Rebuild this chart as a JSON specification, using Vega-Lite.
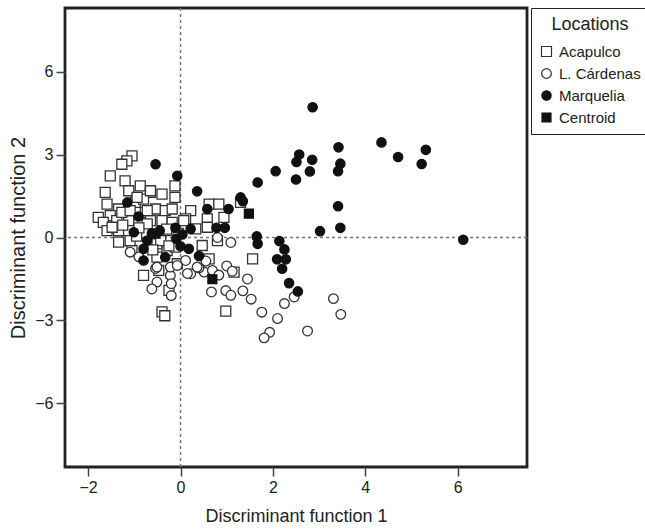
{
  "$schema": "https://vega.github.io/schema/vega-lite/v6.json",
  "autosize": "none",
  "padding": {"left": 65, "top": 8, "right": 118, "bottom": 65},
  "width": 462,
  "height": 459,
  "config": {
    "font": "Liberation Sans",
    "view": {"stroke": "#222", "strokeWidth": 2.8},
    "axis": {"domain": false, "grid": false, "tickSize": 9, "tickColor": "#444", "tickWidth": 1.5, "labelFontSize": 16, "labelColor": "#222", "labelPadding": 3, "titleFontWeight": "normal", "titleColor": "#222"},
    "legend": {"strokeColor": "#222", "padding": 8, "titleFontSize": 18, "titleFontWeight": "normal", "titleColor": "#222", "titlePadding": 10, "titleAnchor": "middle", "labelFontSize": 15, "labelColor": "#222", "labelOffset": 5, "rowPadding": 6, "symbolStrokeWidth": 1.2, "offset": 4}
  },
  "layer": [
    {
      "data": {"values": [{}]},
      "mark": {"type": "rule", "strokeDash": [3, 3], "color": "#777", "strokeWidth": 1.5},
      "encoding": {"x": {"datum": 0, "type": "quantitative"}}
    },
    {
      "data": {"values": [{}]},
      "mark": {"type": "rule", "strokeDash": [3, 3], "color": "#777", "strokeWidth": 1.5},
      "encoding": {"y": {"datum": 0, "type": "quantitative"}}
    },
    {
      "data": {"values": [
        {"group": "Acapulco", "x": -1.05, "y": 2.95},
        {"group": "Acapulco", "x": -1.16, "y": 2.77},
        {"group": "Acapulco", "x": -1.27, "y": 2.65},
        {"group": "Acapulco", "x": -1.52, "y": 2.23},
        {"group": "Acapulco", "x": -1.2, "y": 2.05},
        {"group": "Acapulco", "x": -0.87, "y": 1.87},
        {"group": "Acapulco", "x": -1.63, "y": 1.63},
        {"group": "Acapulco", "x": -1.12, "y": 1.69},
        {"group": "Acapulco", "x": -0.65, "y": 1.63},
        {"group": "Acapulco", "x": -0.4, "y": 1.57},
        {"group": "Acapulco", "x": -0.12, "y": 1.87},
        {"group": "Acapulco", "x": -0.12, "y": 1.45},
        {"group": "Acapulco", "x": -1.59, "y": 1.21},
        {"group": "Acapulco", "x": -1.34, "y": 1.03},
        {"group": "Acapulco", "x": -0.98, "y": 1.27},
        {"group": "Acapulco", "x": -0.8, "y": 1.39},
        {"group": "Acapulco", "x": -0.54, "y": 1.03},
        {"group": "Acapulco", "x": -0.33, "y": 0.97},
        {"group": "Acapulco", "x": -1.78, "y": 0.73},
        {"group": "Acapulco", "x": -1.52, "y": 0.79},
        {"group": "Acapulco", "x": -0.76, "y": 0.91},
        {"group": "Acapulco", "x": -0.18, "y": 1.03},
        {"group": "Acapulco", "x": -1.67, "y": 0.55},
        {"group": "Acapulco", "x": -1.38, "y": 0.61},
        {"group": "Acapulco", "x": -1.12, "y": 0.61},
        {"group": "Acapulco", "x": -0.65, "y": 0.61},
        {"group": "Acapulco", "x": -0.4, "y": 0.61},
        {"group": "Acapulco", "x": -0.18, "y": 0.55},
        {"group": "Acapulco", "x": -1.27, "y": 0.91},
        {"group": "Acapulco", "x": 0.22, "y": 0.97},
        {"group": "Acapulco", "x": 0.62, "y": 1.21},
        {"group": "Acapulco", "x": 0.83, "y": 1.21},
        {"group": "Acapulco", "x": 0.58, "y": 0.67},
        {"group": "Acapulco", "x": 0.94, "y": 0.73},
        {"group": "Acapulco", "x": 1.3, "y": 1.27},
        {"group": "Acapulco", "x": 0.11, "y": 0.67},
        {"group": "Acapulco", "x": -1.59, "y": 0.25},
        {"group": "Acapulco", "x": -1.34, "y": 0.25},
        {"group": "Acapulco", "x": -1.16, "y": -0.11},
        {"group": "Acapulco", "x": -1.34, "y": -0.17},
        {"group": "Acapulco", "x": -1.05, "y": -0.47},
        {"group": "Acapulco", "x": -0.51, "y": -0.23},
        {"group": "Acapulco", "x": -0.29, "y": -0.47},
        {"group": "Acapulco", "x": -0.11, "y": -0.35},
        {"group": "Acapulco", "x": -0.51, "y": -0.71},
        {"group": "Acapulco", "x": -0.07, "y": -0.95},
        {"group": "Acapulco", "x": -0.8, "y": -1.37},
        {"group": "Acapulco", "x": -0.25, "y": -1.91},
        {"group": "Acapulco", "x": -0.4, "y": -2.69},
        {"group": "Acapulco", "x": -0.34, "y": -2.83},
        {"group": "Acapulco", "x": 0.58, "y": 0.37},
        {"group": "Acapulco", "x": 0.47, "y": -0.29},
        {"group": "Acapulco", "x": 0.8, "y": -0.11},
        {"group": "Acapulco", "x": 0.62, "y": -0.77},
        {"group": "Acapulco", "x": 1.16, "y": -1.25},
        {"group": "Acapulco", "x": 1.56, "y": -0.77},
        {"group": "Acapulco", "x": 0.98, "y": -2.66},
        {"group": "Acapulco", "x": 0.33, "y": 0.31},
        {"group": "Acapulco", "x": -1.48, "y": 0.37},
        {"group": "Acapulco", "x": -1.09, "y": -0.11},
        {"group": "Acapulco", "x": -0.43, "y": -0.11},
        {"group": "Acapulco", "x": -0.25, "y": 0.25},
        {"group": "Acapulco", "x": -0.25, "y": -0.3},
        {"group": "Acapulco", "x": -1.09, "y": 0.97},
        {"group": "Acapulco", "x": -0.72, "y": 0.97},
        {"group": "Acapulco", "x": 0.07, "y": 0.61},
        {"group": "Acapulco", "x": -0.72, "y": 0.49},
        {"group": "Acapulco", "x": -0.94, "y": 1.45},
        {"group": "Acapulco", "x": -0.65, "y": 1.69},
        {"group": "Acapulco", "x": -0.47, "y": -1.19},
        {"group": "Acapulco", "x": -0.95, "y": 0.05},
        {"group": "Acapulco", "x": -0.6, "y": -0.45},
        {"group": "Acapulco", "x": -1.25, "y": 0.45},
        {"group": "Acapulco", "x": -0.05, "y": 0.15},
        {"group": "Acapulco", "x": -0.9, "y": 0.35},
        {"group": "Acapulco", "x": -0.3, "y": 0.3},
        {"group": "L. Cárdenas", "x": 1.09, "y": -0.18},
        {"group": "L. Cárdenas", "x": 0.8, "y": 0.0},
        {"group": "L. Cárdenas", "x": 1.0, "y": -1.03},
        {"group": "L. Cárdenas", "x": 1.12, "y": -1.22},
        {"group": "L. Cárdenas", "x": 1.45, "y": -1.5},
        {"group": "L. Cárdenas", "x": 0.67, "y": -1.97},
        {"group": "L. Cárdenas", "x": 0.98, "y": -1.92},
        {"group": "L. Cárdenas", "x": 1.09, "y": -2.09},
        {"group": "L. Cárdenas", "x": 1.35, "y": -1.93},
        {"group": "L. Cárdenas", "x": 1.53, "y": -2.23},
        {"group": "L. Cárdenas", "x": 1.76, "y": -2.7},
        {"group": "L. Cárdenas", "x": 2.1, "y": -2.93},
        {"group": "L. Cárdenas", "x": 2.25, "y": -2.39},
        {"group": "L. Cárdenas", "x": 2.46, "y": -2.15},
        {"group": "L. Cárdenas", "x": 1.93, "y": -3.43},
        {"group": "L. Cárdenas", "x": 1.81, "y": -3.63},
        {"group": "L. Cárdenas", "x": 2.75, "y": -3.38},
        {"group": "L. Cárdenas", "x": 3.31, "y": -2.21},
        {"group": "L. Cárdenas", "x": 3.47, "y": -2.78},
        {"group": "L. Cárdenas", "x": 0.51, "y": -1.25},
        {"group": "L. Cárdenas", "x": 0.69, "y": -1.19},
        {"group": "L. Cárdenas", "x": 0.83, "y": -1.36},
        {"group": "L. Cárdenas", "x": 0.11, "y": -0.83},
        {"group": "L. Cárdenas", "x": 0.22, "y": -1.31},
        {"group": "L. Cárdenas", "x": 0.4, "y": -1.1},
        {"group": "L. Cárdenas", "x": -1.09, "y": -0.53},
        {"group": "L. Cárdenas", "x": -0.54, "y": -1.12},
        {"group": "L. Cárdenas", "x": -0.51, "y": -1.61},
        {"group": "L. Cárdenas", "x": -0.62, "y": -1.86},
        {"group": "L. Cárdenas", "x": -0.22, "y": -1.37},
        {"group": "L. Cárdenas", "x": -0.2, "y": -1.67},
        {"group": "L. Cárdenas", "x": -0.2, "y": -2.1},
        {"group": "L. Cárdenas", "x": -0.51, "y": -1.07},
        {"group": "L. Cárdenas", "x": -0.22, "y": -1.07},
        {"group": "L. Cárdenas", "x": -0.07, "y": -1.01},
        {"group": "L. Cárdenas", "x": 0.15, "y": -1.3},
        {"group": "L. Cárdenas", "x": 0.36, "y": -1.07},
        {"group": "L. Cárdenas", "x": 0.55, "y": -0.85},
        {"group": "L. Cárdenas", "x": -0.9, "y": -0.7},
        {"group": "Marquelia", "x": 2.86, "y": 4.71},
        {"group": "Marquelia", "x": 3.42, "y": 3.26},
        {"group": "Marquelia", "x": 4.35, "y": 3.44},
        {"group": "Marquelia", "x": 4.71, "y": 2.91},
        {"group": "Marquelia", "x": 5.31, "y": 3.17},
        {"group": "Marquelia", "x": 5.22, "y": 2.66},
        {"group": "Marquelia", "x": 2.57, "y": 3.0},
        {"group": "Marquelia", "x": 2.51, "y": 2.73},
        {"group": "Marquelia", "x": 2.85, "y": 2.81},
        {"group": "Marquelia", "x": 3.46, "y": 2.67},
        {"group": "Marquelia", "x": 3.41, "y": 2.4},
        {"group": "Marquelia", "x": 2.8, "y": 2.39},
        {"group": "Marquelia", "x": 2.5, "y": 2.1},
        {"group": "Marquelia", "x": 2.06, "y": 2.4},
        {"group": "Marquelia", "x": 1.67, "y": 1.99},
        {"group": "Marquelia", "x": 1.3, "y": 1.45},
        {"group": "Marquelia", "x": 1.35, "y": 1.31},
        {"group": "Marquelia", "x": 1.04, "y": 1.03},
        {"group": "Marquelia", "x": 0.58, "y": 1.03},
        {"group": "Marquelia", "x": 3.41, "y": 1.13},
        {"group": "Marquelia", "x": 3.46, "y": 0.35},
        {"group": "Marquelia", "x": 3.02, "y": 0.23},
        {"group": "Marquelia", "x": 6.12, "y": -0.08},
        {"group": "Marquelia", "x": 1.65, "y": 0.04},
        {"group": "Marquelia", "x": 1.67, "y": -0.23},
        {"group": "Marquelia", "x": 2.14, "y": -0.13},
        {"group": "Marquelia", "x": 2.25, "y": -0.43},
        {"group": "Marquelia", "x": 2.09, "y": -0.79},
        {"group": "Marquelia", "x": 2.28, "y": -0.79},
        {"group": "Marquelia", "x": 2.2, "y": -1.13},
        {"group": "Marquelia", "x": 2.35, "y": -1.65},
        {"group": "Marquelia", "x": 2.54, "y": -1.95},
        {"group": "Marquelia", "x": 0.78, "y": 0.35},
        {"group": "Marquelia", "x": 0.96, "y": 0.35},
        {"group": "Marquelia", "x": 0.36, "y": 1.67},
        {"group": "Marquelia", "x": -0.07, "y": 2.23},
        {"group": "Marquelia", "x": -0.54, "y": 2.65},
        {"group": "Marquelia", "x": -1.15, "y": 1.27},
        {"group": "Marquelia", "x": -0.91, "y": 0.76},
        {"group": "Marquelia", "x": -0.11, "y": 0.35},
        {"group": "Marquelia", "x": 0.22, "y": 0.31},
        {"group": "Marquelia", "x": -1.01, "y": 0.19},
        {"group": "Marquelia", "x": -0.72, "y": -0.11},
        {"group": "Marquelia", "x": -0.8, "y": -0.41},
        {"group": "Marquelia", "x": -0.33, "y": -0.71},
        {"group": "Marquelia", "x": -0.09, "y": -0.05},
        {"group": "Marquelia", "x": 0.04, "y": 0.11},
        {"group": "Marquelia", "x": 0.0, "y": -0.32},
        {"group": "Marquelia", "x": 0.18, "y": -0.41},
        {"group": "Marquelia", "x": 0.4, "y": -0.67},
        {"group": "Marquelia", "x": -0.8, "y": -0.83},
        {"group": "Marquelia", "x": -0.62, "y": 0.15},
        {"group": "Marquelia", "x": -0.45, "y": 0.25},
        {"group": "Centroid", "x": -0.54, "y": 0.14},
        {"group": "Centroid", "x": 0.69, "y": -1.51},
        {"group": "Centroid", "x": 1.48, "y": 0.86}
      ]},
      "mark": {"type": "point", "filled": true, "opacity": 1, "strokeWidth": 1.3},
      "encoding": {
        "x": {"field": "x", "type": "quantitative", "scale": {"domain": [-2.5, 7.5], "nice": false, "zero": false}, "axis": {"values": [-2, 0, 2, 4, 6], "title": "Discriminant function 1", "titleFontSize": 18, "titlePadding": 12, "labelExpr": "replace(datum.label, '-', '\u2212')"}},
        "y": {"field": "y", "type": "quantitative", "scale": {"domain": [-8.3, 8.3], "nice": false, "zero": false}, "axis": {"values": [-6, -3, 0, 3, 6], "title": "Discriminant function 2", "titleFontSize": 20, "titlePadding": 6, "labelExpr": "replace(datum.label, '-', '\u2212')"}},
        "shape": {"field": "group", "type": "nominal", "title": "Locations", "scale": {"domain": ["Acapulco", "L. Cárdenas", "Marquelia", "Centroid"], "range": ["square", "circle", "circle", "square"]}},
        "fill": {"field": "group", "type": "nominal", "title": "Locations", "scale": {"domain": ["Acapulco", "L. Cárdenas", "Marquelia", "Centroid"], "range": ["#ffffff", "#ffffff", "#111111", "#111111"]}},
        "stroke": {"field": "group", "type": "nominal", "title": "Locations", "scale": {"domain": ["Acapulco", "L. Cárdenas", "Marquelia", "Centroid"], "range": ["#333333", "#333333", "#111111", "#111111"]}},
        "size": {"field": "group", "type": "nominal", "title": "Locations", "scale": {"domain": ["Acapulco", "L. Cárdenas", "Marquelia", "Centroid"], "range": [100, 80, 42, 170]}}
      }
    }
  ]
}
